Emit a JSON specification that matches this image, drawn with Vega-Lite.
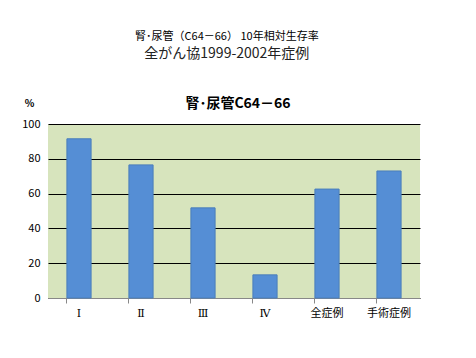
{
  "$schema": "https://vega.github.io/schema/vega-lite/v6.json",
  "background": "white",
  "padding": {"top": 31, "left": 21, "right": 10, "bottom": 5},
  "title": {
    "text": "腎･尿管（C64－66） 10年相対生存率",
    "subtitle": "全がん協1999-2002年症例",
    "anchor": "middle",
    "font": "Noto Sans CJK JP",
    "fontSize": 11,
    "fontWeight": "normal",
    "color": "#000000",
    "subtitleFont": "Noto Sans CJK JP",
    "subtitleFontSize": 14,
    "subtitleColor": "#222222",
    "subtitlePadding": 5,
    "offset": 36,
    "dx": 6
  },
  "config": {
    "view": {"stroke": null},
    "font": "Noto Sans CJK JP"
  },
  "vconcat": [
    {
      "width": 372,
      "height": 174,
      "title": {
        "text": "腎･尿管C64－66",
        "font": "Noto Sans CJK JP",
        "fontSize": 14,
        "fontWeight": "bold",
        "color": "#000000",
        "anchor": "middle",
        "offset": -13,
        "dx": 4
      },
      "data": {
        "values": [
          {"stage": "Ⅰ", "rate": 91.5},
          {"stage": "Ⅱ", "rate": 76.5},
          {"stage": "Ⅲ", "rate": 51.8},
          {"stage": "Ⅳ", "rate": 13.3},
          {"stage": "全症例", "rate": 62.6},
          {"stage": "手術症例", "rate": 73.0}
        ]
      },
      "view": {"fill": "#d7e4bd", "stroke": null},
      "mark": {"type": "bar", "color": "#558ed5", "stroke": "#4a7ebb", "strokeWidth": 1},
      "encoding": {
        "x": {
          "field": "stage",
          "type": "nominal",
          "sort": null,
          "scale": {"paddingInner": 0.61, "paddingOuter": 0.305},
          "axis": {
            "title": null,
            "labelAngle": 0,
            "labelFont": {"condition": {"test": "indexof(['Ⅰ','Ⅱ','Ⅲ','Ⅳ'], datum.value) >= 0", "value": "DejaVu Serif"}, "value": "Noto Sans CJK JP"},
            "labelFontSize": 11,
            "labelColor": "#000000",
            "labelPadding": 4,
            "bandPosition": 0,
            "ticks": true,
            "tickColor": "#888888",
            "tickSize": 5,
            "domainColor": "#888888",
            "grid": false
          }
        },
        "y": {
          "field": "rate",
          "type": "quantitative",
          "scale": {"domain": [0, 100]},
          "axis": {
            "values": [0, 20, 40, 60, 80, 100],
            "title": "%",
            "titleAngle": 0,
            "titleX": -19,
            "titleY": -21,
            "titleAlign": "center",
            "titleBaseline": "middle",
            "titleFontSize": 10,
            "titleFontWeight": "bold",
            "titleColor": "#000000",
            "labelFontSize": 11,
            "labelColor": "#000000",
            "labelPadding": 8,
            "ticks": false,
            "domain": false,
            "grid": true,
            "gridColor": "#000000",
            "gridWidth": 1,
            "gridOpacity": 1
          }
        }
      }
    }
  ]
}
